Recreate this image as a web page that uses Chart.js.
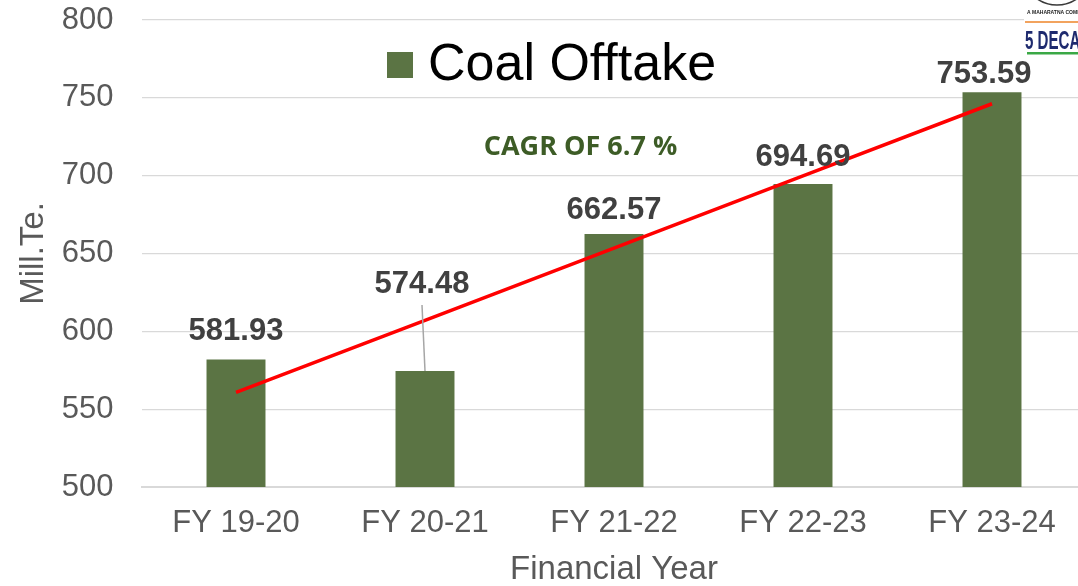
<!DOCTYPE html>
<html>
<head>
<meta charset="utf-8">
<script src="https://cdn.jsdelivr.net/npm/chart.js@4.4.1/dist/chart.umd.min.js"></script>
<style>
html,body{margin:0;padding:0;overflow:hidden;background:#fff;width:1078px;height:586px}
#wrap{position:relative;width:1090px;height:586px}
canvas{display:block}
</style>
</head>
<body>
<div id="wrap"><canvas id="c" width="1090" height="586"></canvas></div>
<script>
// ---- data ----
const categories = ['FY 19-20', 'FY 20-21', 'FY 21-22', 'FY 22-23', 'FY 23-24'];
const offtake = [581.93, 574.48, 662.57, 694.69, 753.59];
const trend = [560.8, 607.1, 653.5, 699.8, 746.2];
const yTicks = [500, 550, 600, 650, 700, 750, 800];
const seriesName = 'Coal Offtake';
const cagrText = 'CAGR OF 6.7 %';
const xTitle = 'Financial Year';
const yTitle = 'Mill.Te.';

// ---- label styling (offsets in px) ----
const labelGap = [19.5, 78, 14.5, 17.5, 9];
const labelDx = [0, -3, 0, 0, -8];
const leader = [false, true, false, false, false];

const FONT = '"Liberation Sans", Arial, sans-serif';
const BAR_COLOR = '#5b7444';

const overlay = {
  id: 'overlay',
  afterDatasetsDraw(chart) {
    const ctx = chart.ctx;
    const meta = chart.getDatasetMeta(0);
    ctx.save();
    ctx.font = 'bold 31px ' + FONT;
    ctx.fillStyle = '#404040';
    ctx.textAlign = 'center';
    ctx.textBaseline = 'alphabetic';
    meta.data.forEach((bar, i) => {
      const x = bar.x + labelDx[i];
      const y = bar.y - labelGap[i];
      if (leader[i]) {
        ctx.save();
        ctx.strokeStyle = '#a6a6a6';
        ctx.lineWidth = 1.5;
        ctx.beginPath();
        ctx.moveTo(x, y + 12);
        ctx.lineTo(bar.x, bar.y);
        ctx.stroke();
        ctx.restore();
      }
      ctx.fillText(offtake[i].toFixed(2), x, y);
    });
    ctx.restore();
  },
  afterDraw(chart) {
    const ctx = chart.ctx;
    ctx.save();
    // legend
    const ds = chart.data.datasets[0];
    ctx.fillStyle = ds.backgroundColor;
    ctx.fillRect(387, 52, 26, 26);
    ctx.fillStyle = '#000';
    ctx.font = '52px ' + FONT;
    ctx.textAlign = 'left';
    ctx.textBaseline = 'alphabetic';
    ctx.fillText(ds.label, 428, 80);
    // CAGR annotation
    ctx.font = 'bold 27px "Open Sans", sans-serif';
    ctx.fillStyle = '#3d5c26';
    ctx.textAlign = 'center';
    ctx.textBaseline = 'middle';
    ctx.fillText(cagrText, 580.5, 147);
    // partial logo top-right
    ctx.fillStyle = '#fff';
    ctx.fillRect(1024, 0, 80, 58);
    ctx.strokeStyle = '#3a3a3a';
    ctx.lineWidth = 1.5;
    ctx.beginPath();
    ctx.arc(1057, -30, 35, 0, Math.PI);
    ctx.stroke();
    ctx.fillStyle = '#222';
    ctx.font = 'bold 5px ' + FONT;
    ctx.textAlign = 'left';
    ctx.textBaseline = 'alphabetic';
    ctx.fillText('A MAHARATNA COMPANY', 1027, 14);
    ctx.fillStyle = '#f2a35e';
    ctx.fillRect(1025, 21, 80, 2);
    ctx.save();
    ctx.translate(1025, 49);
    ctx.scale(0.58, 1);
    ctx.fillStyle = '#1e2a6e';
    ctx.font = 'bold 26px ' + FONT;
    ctx.fillText('5 DECADES', 0, 0);
    ctx.restore();
    ctx.fillStyle = '#3aa845';
    ctx.fillRect(1027, 52, 80, 2.5);
    ctx.restore();
  }
};

new Chart(document.getElementById('c'), {
  type: 'bar',
  data: {
    labels: categories,
    datasets: [
      { type: 'bar', label: seriesName, data: offtake, backgroundColor: BAR_COLOR,
        barPercentage: 1, categoryPercentage: 0.312, order: 1 },
      { type: 'line', label: 'Linear trend', data: trend, borderColor: '#ff0000', borderWidth: 3.5,
        pointRadius: 0, fill: false, tension: 0, order: 0 }
    ]
  },
  options: {
    responsive: false,
    animation: false,
    devicePixelRatio: 1,
    layout: { padding: { top: 20, right: 3.5, bottom: 0, left: 0 } },
    plugins: { legend: { display: false }, tooltip: { enabled: false } },
    scales: {
      x: {
        grid: { display: false, drawTicks: false },
        border: { display: true, color: '#d9d9d9', width: 2 },
        ticks: { color: '#595959', font: { family: FONT, size: 31 }, padding: 18, maxRotation: 0, autoSkip: false },
        title: { display: true, text: xTitle, color: '#595959', font: { family: FONT, size: 33, lineHeight: 1 }, padding: { top: 0, bottom: 0 } },
        afterFit(s) { s.height = 99; s.paddingLeft = 0; s.paddingRight = 0; }
      },
      y: {
        min: 500, max: 800,
        afterBuildTicks(s) { s.ticks = yTicks.map(v => ({ value: v })); },
        grid: { color: '#d9d9d9', lineWidth: 1.3, drawTicks: false },
        border: { display: false },
        ticks: { color: '#595959', font: { family: FONT, size: 31 }, padding: 28 },
        title: { display: true, text: yTitle, color: '#595959', font: { family: FONT, size: 33, lineHeight: 1 }, padding: { top: 17, bottom: 0 } },
        afterFit(s) { s.width = 141.5; s.paddingTop = 0; s.paddingBottom = 0; }
      }
    }
  },
  plugins: [overlay]
});
</script>
</body>
</html>
